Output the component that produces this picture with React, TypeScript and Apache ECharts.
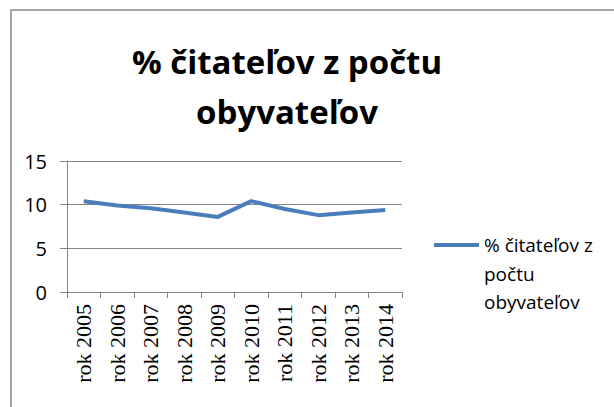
import React, { useEffect, useRef } from "react";
import * as echarts from "echarts";

const categories = ["rok 2005", "rok 2006", "rok 2007", "rok 2008", "rok 2009", "rok 2010", "rok 2011", "rok 2012", "rok 2013", "rok 2014"];
const values = [10.4, 9.9, 9.6, 9.1, 8.6, 10.4, 9.5, 8.8, 9.1, 9.4];
const seriesName = "% čitateľov z počtu obyvateľov";
const legendFirstLine = "% čitateľov z";
const legendMoreLines = "počtu\nobyvateľov";
const titleText = "% čitateľov z počtu\nobyvateľov";

export default function App() {
  const ref = useRef<HTMLDivElement>(null);
  useEffect(() => {
    document.body.style.margin = "0";
    const chart = echarts.init(ref.current!, null, { renderer: "svg" });
    chart.setOption({
      animation: false,
      backgroundColor: "#fff",
      graphic: [
        {
          type: "rect",
          shape: { x: 11, y: 10, width: 620, height: 420 },
          style: { fill: "none", stroke: "#a6a6a6", lineWidth: 2 },
          silent: true,
        },
        {
          type: "text",
          x: 287,
          y: 36,
          style: {
            text: titleText,
            textAlign: "center",
            font: "bold 33px 'Open Sans'",
            lineHeight: 50,
            fill: "#000",
          },
        },
        {
          type: "text",
          x: 484,
          y: 260,
          style: {
            text: legendMoreLines,
            textAlign: "left",
            font: "19px 'Open Sans'",
            lineHeight: 28,
            fill: "#000",
          },
        },
      ],
      legend: {
        show: true,
        left: 434,
        top: 231,
        padding: 0,
        orient: "vertical",
        itemWidth: 45,
        itemHeight: 4,
        icon: "rect",
        formatter: () => legendFirstLine,
        textStyle: { fontFamily: "Open Sans", fontSize: 19, lineHeight: 28, color: "#000" },
        data: [seriesName],
      },
      grid: { left: 67, right: 212, top: 161, bottom: 115 },
      xAxis: {
        type: "category",
        data: categories,
        boundaryGap: true,
        axisLine: { lineStyle: { color: "#868686", width: 1 } },
        axisTick: { show: true, alignWithLabel: false, length: 6, lineStyle: { color: "#868686" } },
        axisLabel: { rotate: 90, interval: 0, fontFamily: "Liberation Serif", fontSize: 22, color: "#000", margin: 12 },
      },
      yAxis: {
        type: "value",
        min: 0,
        max: 15,
        interval: 5,
        axisLine: { show: true, lineStyle: { color: "#868686" } },
        axisTick: { show: true, length: 7, lineStyle: { color: "#868686" } },
        splitLine: { lineStyle: { color: "#868686", width: 1 } },
        axisLabel: { fontFamily: "Open Sans", fontSize: 20, color: "#000", margin: 20 },
      },
      series: [
        {
          name: seriesName,
          type: "line",
          data: values,
          symbol: "none",
          lineStyle: { color: "#4a7ebb", width: 4 },
          itemStyle: { color: "#4a7ebb" },
        },
      ],
    });
    return () => chart.dispose();
  }, []);
  return <div ref={ref} style={{ width: 614, height: 407, position: "fixed", left: 0, top: 0 }} />;
}
